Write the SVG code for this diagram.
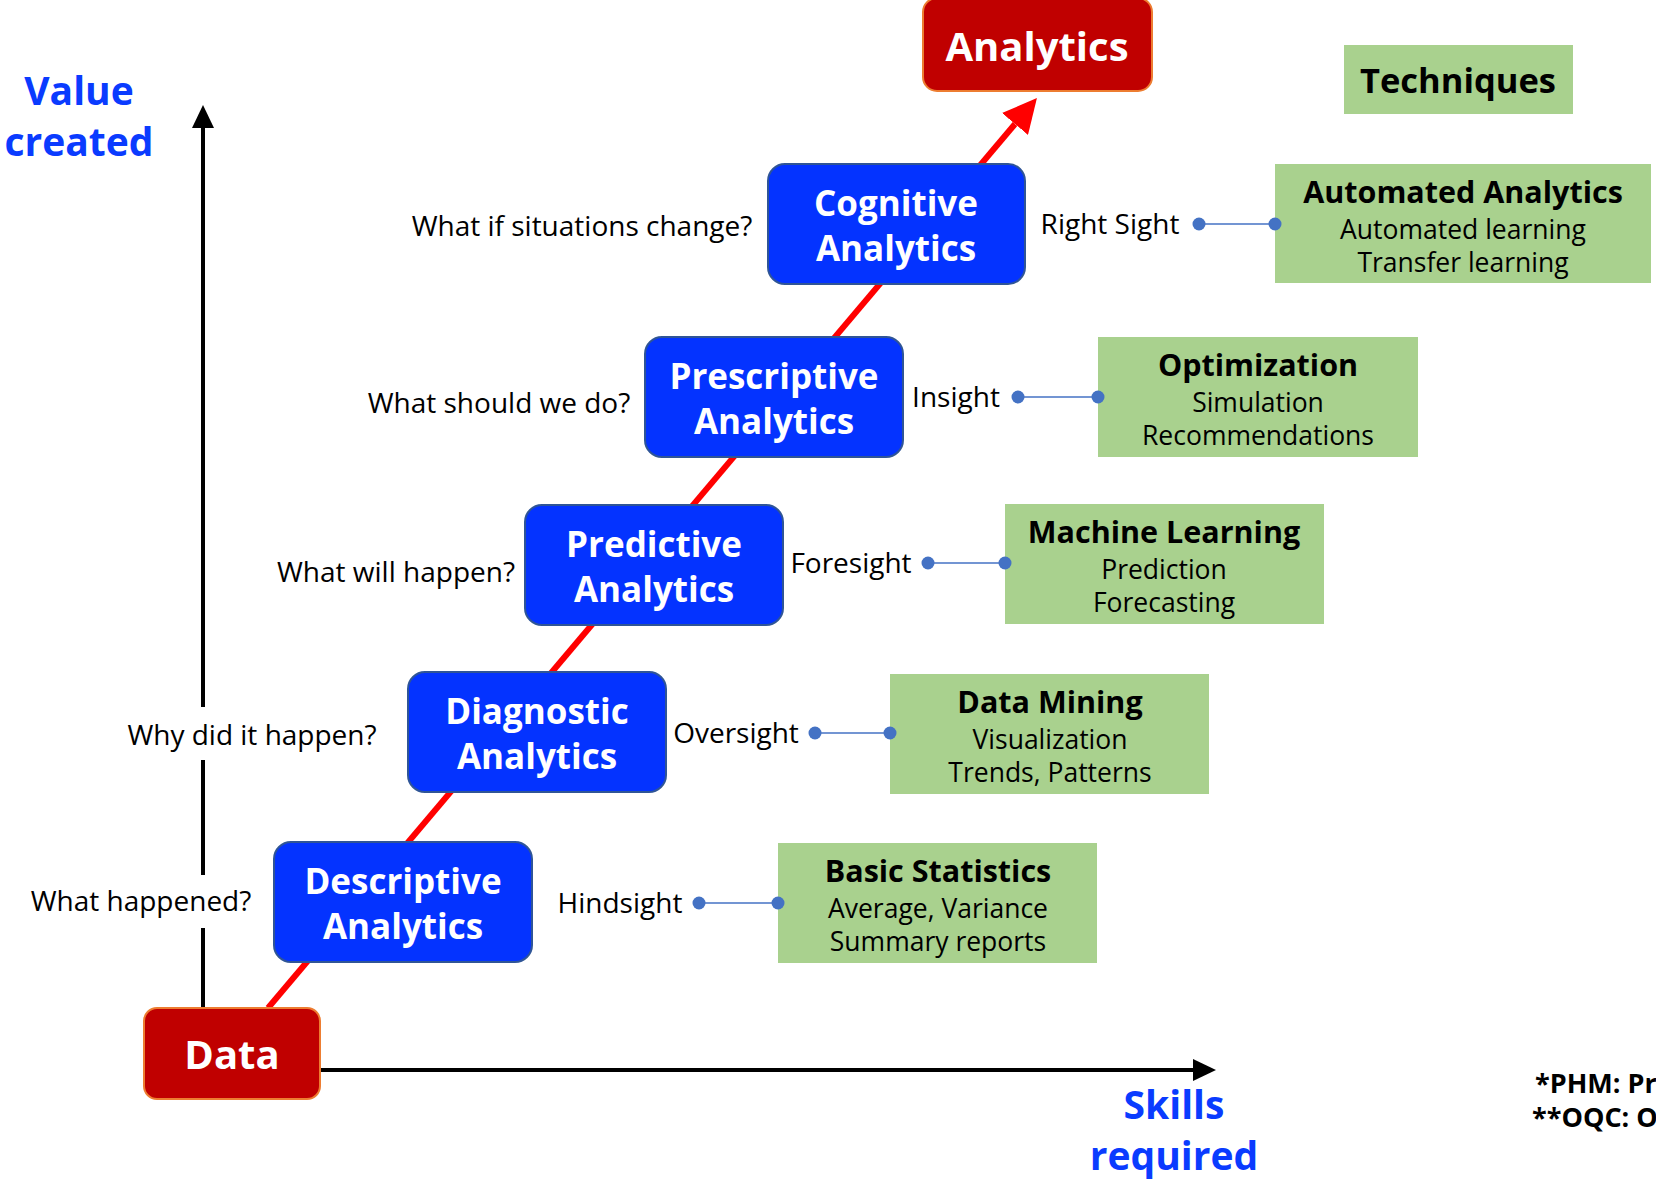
<svg xmlns="http://www.w3.org/2000/svg" width="1656" height="1179" viewBox="0 0 1656 1179">
<defs>
<style>
text{font-family:"Open Sans","Noto Sans","DejaVu Sans",sans-serif}
.blue{fill:#0433FF;stroke:#2F5597;stroke-width:2}
.red{fill:#C00000;stroke:#ED7D31;stroke-width:2}
.green{fill:#A9D18E}
.bt{fill:#fff;font-weight:700;font-size:35px;text-anchor:middle}
.rt{fill:#fff;font-weight:700;font-size:40px;text-anchor:middle}
.q{fill:#000;font-size:28px;text-anchor:middle}
.gt{fill:#000;font-weight:700;font-size:30.5px;text-anchor:middle}
.gl{fill:#000;font-size:26.5px;text-anchor:middle}
.ax{fill:#0A3BFF;font-weight:700;font-size:39px;text-anchor:middle}
.fn{fill:#000;font-weight:700;font-size:27px}
.axis{stroke:#000;stroke-width:4;fill:none}
.link{stroke:#4472C4;stroke-width:1.5}
.dot{fill:#4472C4}
</style>
<marker id="ah" viewBox="0 0 23 22" refX="0" refY="11" markerWidth="23" markerHeight="22" markerUnits="userSpaceOnUse" orient="auto"><path d="M0,0L23,11L0,22z" fill="#000"/></marker>
<marker id="rh" viewBox="0 0 34 34" refX="0" refY="17" markerWidth="34" markerHeight="34" markerUnits="userSpaceOnUse" orient="auto"><path d="M0,0L34,17L0,34z" fill="#FF0000"/></marker>
</defs>
<rect width="1656" height="1179" fill="#fff"/>

<g id="connectors">
<line x1="268" y1="1008" x2="1015" y2="124" stroke="#FF0000" stroke-width="6" marker-end="url(#rh)"/>
<line class="axis" x1="203" y1="1008" x2="203" y2="928"/>
<line class="axis" x1="203" y1="875" x2="203" y2="760"/>
<line class="axis" x1="203" y1="707" x2="203" y2="128" marker-end="url(#ah)"/>
<line class="axis" x1="321" y1="1070" x2="1193" y2="1070" marker-end="url(#ah)"/>
</g>

<g id="axis-labels">
<text class="ax" x="79" y="105">Value</text>
<text class="ax" x="79" y="156">created</text>
<text class="ax" x="1174" y="1119">Skills</text>
<text class="ax" x="1174" y="1170">required</text>
</g>

<g id="node-data"><rect class="red" x="144" y="1008" width="176" height="91" rx="13"/><text class="rt" x="232" y="1069">Data</text></g>
<g id="node-analytics"><rect class="red" x="923" y="-2" width="229" height="93" rx="14"/><text class="rt" x="1037" y="61">Analytics</text></g>

<g id="node-descriptive"><rect class="blue" x="274" y="842" width="258" height="120" rx="17"/><text class="bt" x="403" y="894">Descriptive</text><text class="bt" x="403" y="939">Analytics</text></g>
<g id="node-diagnostic"><rect class="blue" x="408" y="672" width="258" height="120" rx="17"/><text class="bt" x="537" y="724">Diagnostic</text><text class="bt" x="537" y="769">Analytics</text></g>
<g id="node-predictive"><rect class="blue" x="525" y="505" width="258" height="120" rx="17"/><text class="bt" x="654" y="557">Predictive</text><text class="bt" x="654" y="602">Analytics</text></g>
<g id="node-prescriptive"><rect class="blue" x="645" y="337" width="258" height="120" rx="17"/><text class="bt" x="774" y="389">Prescriptive</text><text class="bt" x="774" y="434">Analytics</text></g>
<g id="node-cognitive"><rect class="blue" x="768" y="164" width="257" height="120" rx="17"/><text class="bt" x="896" y="216">Cognitive</text><text class="bt" x="896" y="261">Analytics</text></g>

<g id="questions">
<text class="q" x="582" y="236">What if situations change?</text>
<text class="q" x="499" y="413">What should we do?</text>
<text class="q" x="396" y="582">What will happen?</text>
<text class="q" x="252" y="745">Why did it happen?</text>
<text class="q" x="141" y="911">What happened?</text>
</g>

<g id="sights">
<text class="q" x="1110" y="234">Right Sight</text>
<text class="q" x="956" y="407">Insight</text>
<text class="q" x="851" y="573">Foresight</text>
<text class="q" x="736" y="743">Oversight</text>
<text class="q" x="620" y="913">Hindsight</text>
</g>

<g id="node-techniques"><rect class="green" x="1344" y="45" width="229" height="69"/><text class="gt" x="1458" y="93" style="font-size:34.5px">Techniques</text></g>
<g id="node-automated"><rect class="green" x="1275" y="164" width="376" height="119"/><text class="gt" x="1463" y="203">Automated Analytics</text><text class="gl" x="1463" y="239">Automated learning</text><text class="gl" x="1463" y="272">Transfer learning</text></g>
<g id="node-optimization"><rect class="green" x="1098" y="337" width="320" height="120"/><text class="gt" x="1258" y="376">Optimization</text><text class="gl" x="1258" y="412">Simulation</text><text class="gl" x="1258" y="445">Recommendations</text></g>
<g id="node-ml"><rect class="green" x="1005" y="504" width="319" height="120"/><text class="gt" x="1164" y="543">Machine Learning</text><text class="gl" x="1164" y="579">Prediction</text><text class="gl" x="1164" y="612">Forecasting</text></g>
<g id="node-dm"><rect class="green" x="890" y="674" width="319" height="120"/><text class="gt" x="1050" y="713">Data Mining</text><text class="gl" x="1050" y="749">Visualization</text><text class="gl" x="1050" y="782">Trends, Patterns</text></g>
<g id="node-bs"><rect class="green" x="778" y="843" width="319" height="120"/><text class="gt" x="938" y="882">Basic Statistics</text><text class="gl" x="938" y="918">Average, Variance</text><text class="gl" x="938" y="951">Summary reports</text></g>

<g id="links">
<line class="link" x1="1199" y1="224" x2="1275" y2="224"/><circle class="dot" cx="1199" cy="224" r="6.5"/><circle class="dot" cx="1275" cy="224" r="6.5"/>
<line class="link" x1="1018" y1="397" x2="1098" y2="397"/><circle class="dot" cx="1018" cy="397" r="6.5"/><circle class="dot" cx="1098" cy="397" r="6.5"/>
<line class="link" x1="928" y1="563" x2="1005" y2="563"/><circle class="dot" cx="928" cy="563" r="6.5"/><circle class="dot" cx="1005" cy="563" r="6.5"/>
<line class="link" x1="815" y1="733" x2="890" y2="733"/><circle class="dot" cx="815" cy="733" r="6.5"/><circle class="dot" cx="890" cy="733" r="6.5"/>
<line class="link" x1="699" y1="903" x2="778" y2="903"/><circle class="dot" cx="699" cy="903" r="6.5"/><circle class="dot" cx="778" cy="903" r="6.5"/>
</g>

<g id="footnotes">
<text class="fn" x="1535" y="1093">*PHM: Pr</text>
<text class="fn" x="1532" y="1127">**OQC: O</text>
</g>
</svg>
